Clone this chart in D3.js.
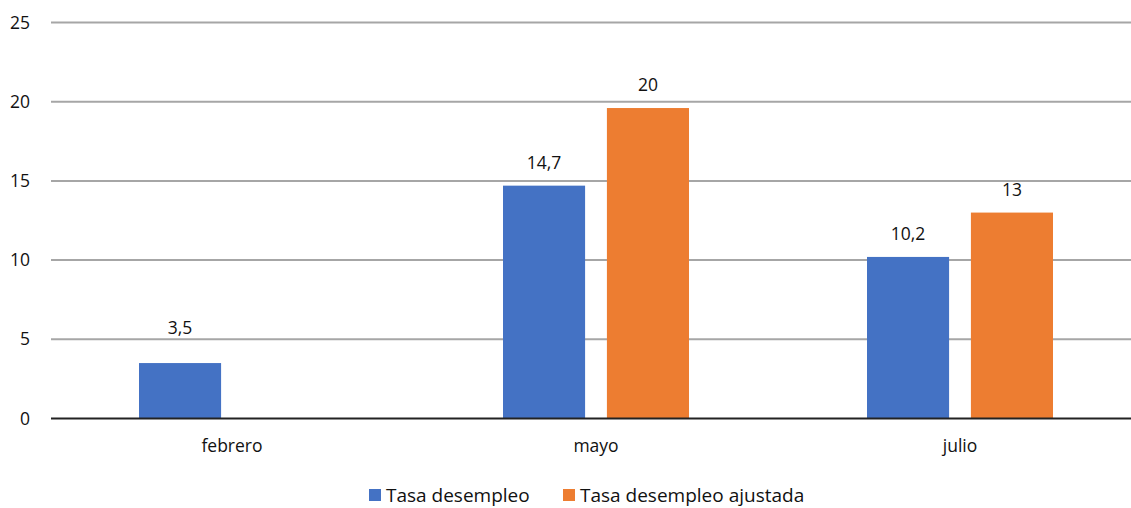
<!DOCTYPE html>
<html><head><meta charset="utf-8">
<script src="https://cdn.jsdelivr.net/npm/d3@7"></script>
<style>body{margin:0;background:#fff}svg{display:block}text{font-family:"Open Sans",sans-serif;fill:#111}</style>
</head><body><svg id="c" width="1131" height="508"></svg>
<script>
const categories = ["febrero","mayo","julio"];
const seriesNames = ["Tasa desempleo","Tasa desempleo ajustada"];
const tasa = [3.5, 14.7, 10.2];
const tasaAjustada = [null, 19.6, 13.0];
const tasaLabels = ["3,5","14,7","10,2"];
const ajustadaLabels = [null,"20","13"];
const yTicks = [0,5,10,15,20,25];
const colors = ["#4472c4","#ed7d31"];

const svg = d3.select("#c");
const y = d3.scaleLinear().domain([0,25]).range([418.5,22.5]);
const x0 = d3.scaleBand().domain(categories).range([50,1142]);
const x1 = d3.scaleBand().domain([0,1]).range([89,275]).paddingInner(0.21).paddingOuter(0);

// gridlines
svg.append("g").selectAll("line").data(yTicks.filter(d=>d>0)).join("line")
  .attr("x1",51).attr("x2",1131).attr("y1",d=>y(d)).attr("y2",d=>y(d))
  .attr("stroke","#a6a6a6").attr("stroke-width",2);

// y tick labels
svg.append("g").selectAll("text").data(yTicks).join("text")
  .attr("x",30).attr("y",d=>y(d)).attr("dy","0.35em").attr("text-anchor","end")
  .attr("font-size",17.5).text(d=>d);

// label placement: above bar, pushed above a gridline it would sit on
function labelY(v){
  let c = y(v) - 23;
  yTicks.forEach(t=>{ const g=y(t); if (g >= c-8 && g <= c+9) c = g - 11; });
  return c;
}

const series = [
  {vals:tasa, labels:tasaLabels},
  {vals:tasaAjustada, labels:ajustadaLabels}
];
series.forEach((s,si)=>{
  const data = categories.map((c,i)=>({c, v:s.vals[i], l:s.labels[i]})).filter(d=>d.v!=null);
  svg.append("g").selectAll("rect").data(data).join("rect")
    .attr("x",d=>x0(d.c)+x1(si)).attr("width",x1.bandwidth())
    .attr("y",d=>y(d.v)).attr("height",d=>y(0)-y(d.v))
    .attr("fill",colors[si]);
  svg.append("g").selectAll("text").data(data).join("text")
    .attr("x",d=>x0(d.c)+x1(si)+x1.bandwidth()/2).attr("y",d=>labelY(d.v))
    .attr("dy","0.35em")
    .attr("text-anchor","middle").attr("font-size",17.5).text(d=>d.l);
});

// baseline
svg.append("line").attr("x1",51).attr("x2",1131).attr("y1",y(0)).attr("y2",y(0))
  .attr("stroke","#222").attr("stroke-width",2);

// category labels
svg.append("g").selectAll("text").data(categories).join("text")
  .attr("x",d=>x0(d)+x0.bandwidth()/2).attr("y",446).attr("dy","0.35em").attr("text-anchor","middle")
  .attr("font-size",17.5).text(d=>d);

// legend
const legX = [369, 563];
const lg = svg.append("g").selectAll("g").data(seriesNames).join("g")
  .attr("transform",(d,i)=>`translate(${legX[i]},0)`);
lg.append("rect").attr("x",0).attr("y",489).attr("width",12).attr("height",12).attr("fill",(d,i)=>colors[i]);
lg.append("text").attr("x",17).attr("y",495).attr("dy","0.35em").attr("font-size",19).text(d=>d);
</script></body></html>
